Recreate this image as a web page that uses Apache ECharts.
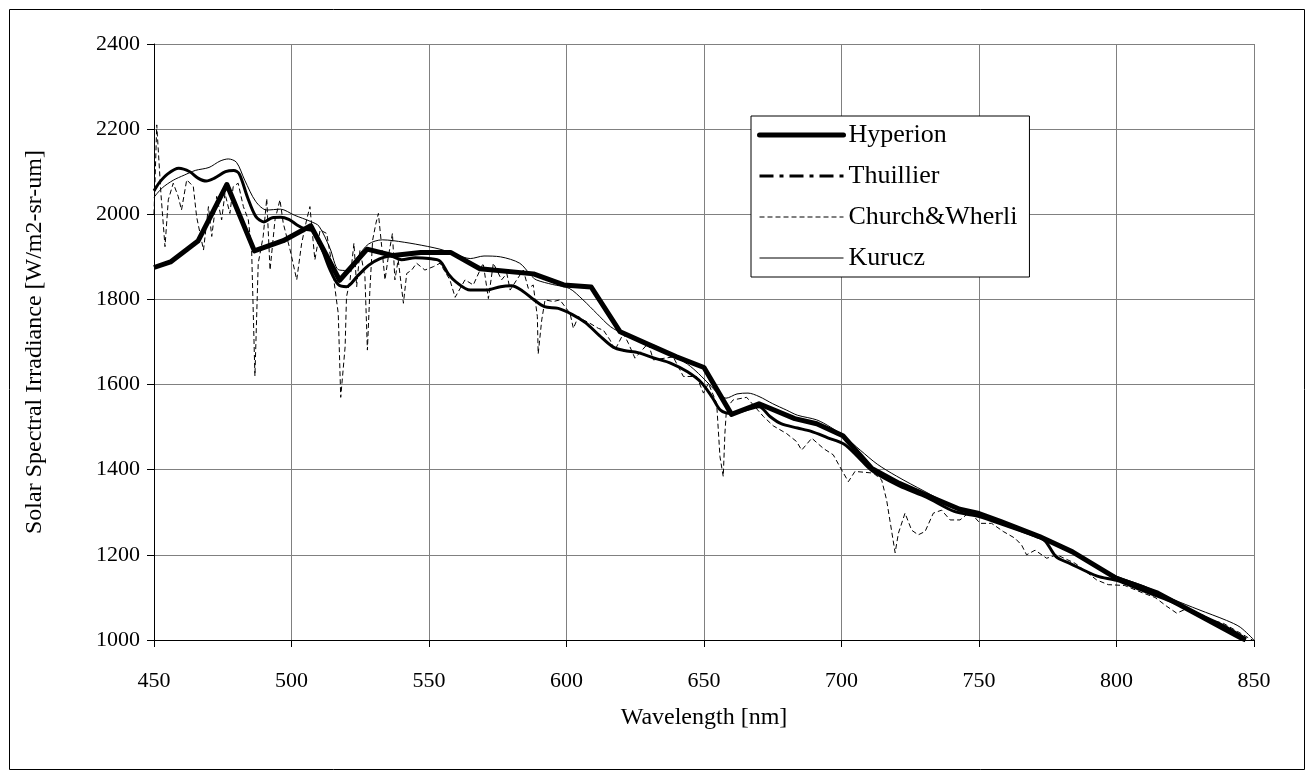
<!DOCTYPE html>
<html><head><meta charset="utf-8">
<script src="https://cdn.jsdelivr.net/npm/echarts@6/dist/echarts.min.js"></script>
<style>html,body{margin:0;padding:0;background:#fff}#c{width:1310px;height:775px}</style>
</head><body><div id="c"></div><script>
// ---- data ----
const xTicks = [450, 500, 550, 600, 650, 700, 750, 800, 850];
const yTicks = [1000, 1200, 1400, 1600, 1800, 2000, 2200, 2400];
const seriesNames = ['Hyperion', 'Thuillier', 'Church&Wherli', 'Kurucz'];

const hyperionWl = [450, 456, 466, 476.5, 486.5, 497, 507, 517.5, 527.5, 537, 547, 558, 568.5, 588, 599, 609, 619.5, 629.5, 640, 650, 660, 670, 683, 691, 700.5, 711, 721, 732, 743, 750, 758, 772, 784, 800, 815, 830, 845, 847];
const hyperionVal = [1875, 1888, 1937, 2070, 1914, 1938, 1973, 1845, 1918, 1903, 1910, 1910, 1872, 1860, 1834, 1829, 1724, 1695, 1665, 1640, 1530, 1555, 1520, 1508, 1480, 1403, 1368, 1337, 1307, 1297, 1278, 1243, 1207, 1145, 1110, 1058, 1006, 1000];

const thuillierWl = [450, 452, 455, 459, 463, 466, 469, 472, 476, 479, 481, 484, 487, 490, 493, 496, 499, 502, 505, 508, 511, 514, 517, 520, 524, 528, 532, 536, 540, 545, 550, 554, 557, 560, 565, 571, 576, 580, 584, 588, 592, 597, 602, 607, 612, 617, 621, 626, 632, 638, 644, 649, 653, 656, 660, 665, 670, 674, 678, 684, 689, 695, 701, 706, 711, 721, 731, 741, 750, 760, 770, 774, 778, 783, 793, 800, 810, 820, 830, 840, 847];
const thuillierVal = [2055, 2075, 2095, 2108, 2100, 2085, 2078, 2085, 2100, 2103, 2095, 2040, 1995, 1982, 1992, 1993, 1988, 1975, 1965, 1960, 1920, 1870, 1835, 1830, 1855, 1880, 1895, 1902, 1893, 1898, 1896, 1890, 1860, 1840, 1822, 1822, 1830, 1832, 1820, 1800, 1783, 1779, 1765, 1745, 1715, 1688, 1680, 1675, 1662, 1650, 1630, 1605, 1570, 1540, 1532, 1540, 1548, 1525, 1508, 1498, 1490, 1475, 1460, 1430, 1398, 1362, 1335, 1302, 1290, 1268, 1245, 1233, 1196, 1180, 1150, 1140, 1115, 1090, 1060, 1030, 1003];

const churchWl = [450, 451, 452.5, 454, 455.2, 457, 458.8, 460, 461.9, 464.3, 465.5, 468, 469.8, 471, 472.8, 474.6, 475.8, 477.6, 478.8, 480.6, 482.5, 484.3, 485.5, 486.7, 487.9, 489.7, 491, 492.2, 494, 495.8, 497, 499.5, 501.9, 503.7, 505.5, 506.7, 508.5, 510.4, 512.8, 514.6, 517, 517.9, 519.5, 520, 521.3, 522.7, 523.7, 524.9, 526.7, 527.6, 528.5, 529.5, 530.7, 531.6, 532.8, 534, 535.2, 536.7, 537.6, 538.8, 540.7, 541.9, 543.7, 545.5, 548.5, 551.6, 554, 557.6, 559.5, 563.1, 566.1, 569.7, 571.6, 573.4, 576.4, 578.3, 579.5, 581.9, 584.3, 586.1, 587.9, 589.4, 589.7, 591, 592.2, 595.2, 597.6, 601.3, 602.5, 604.3, 606.1, 608.5, 611.6, 613.4, 615.8, 617.6, 620.7, 622.5, 624.9, 629.7, 631.6, 638.8, 642.5, 647.3, 649.8, 651.6, 654.6, 655.8, 657, 657.6, 658.2, 660.6, 665.5, 671.6, 675.2, 680, 683.7, 685.5, 689.2, 693.4, 697, 700.1, 702.5, 704.9, 711.6, 714.6, 716.4, 719.5, 720.7, 723.1, 725.5, 727.9, 730.4, 733.4, 736.4, 739.5, 743.1, 746.7, 750.4, 754.6, 758.8, 763.1, 765.5, 767.3, 770.4, 774.6, 778.3, 785, 792.8, 797, 803, 809.8, 814, 818.3, 821.9, 826, 830, 834, 838.9, 844, 848, 850];
const churchVal = [2000, 2210, 2050, 1924, 2034, 2073, 2042, 2010, 2081, 2065, 1994, 1916, 2018, 1948, 2042, 1987, 2049, 2002, 2065, 2073, 2018, 1987, 1916, 1620, 1885, 1948, 2037, 1869, 1987, 2034, 1979, 1916, 1846, 1932, 1987, 2018, 1893, 1963, 1955, 1885, 1767, 1570, 1689, 1806, 1846, 1932, 1830, 1916, 1853, 1681, 1822, 1939, 1979, 2002, 1924, 1846, 1900, 1955, 1846, 1893, 1791, 1861, 1869, 1885, 1869, 1877, 1885, 1846, 1805, 1846, 1834, 1885, 1802, 1885, 1846, 1861, 1822, 1846, 1869, 1826, 1834, 1760, 1672, 1752, 1799, 1795, 1799, 1767, 1732, 1760, 1752, 1744, 1732, 1728, 1705, 1681, 1720, 1697, 1662, 1697, 1658, 1665, 1619, 1619, 1580, 1603, 1556, 1431, 1384, 1485, 1545, 1564, 1570, 1525, 1503, 1485, 1466, 1446, 1474, 1450, 1435, 1399, 1372, 1396, 1392, 1376, 1329, 1205, 1251, 1298, 1258, 1247, 1255, 1298, 1305, 1282, 1282, 1301, 1274, 1274, 1255, 1239, 1223, 1200, 1211, 1192, 1200, 1180, 1141, 1130, 1128, 1110, 1100, 1079, 1063, 1075, 1058, 1048, 1039, 1020, 1005, 998];

const kuruczWl = [450, 453, 457, 461, 465, 470, 474, 477, 480, 483, 487, 491, 496, 501, 507, 510, 514, 517, 520, 524, 528, 533, 537, 545, 554, 560, 565, 570, 576, 583, 587, 589, 595, 601, 606, 611, 616, 621, 625, 632, 638, 644, 648, 652, 655, 658, 662, 666, 670, 675, 680, 684, 691, 696, 701, 707, 713, 720, 730, 740, 750, 760, 770, 780, 790, 800, 810, 820, 830, 840, 845, 850];
const kuruczVal = [2040, 2062, 2080, 2092, 2103, 2110, 2125, 2130, 2122, 2080, 2030, 2010, 2012, 1998, 1983, 1972, 1920, 1870, 1868, 1900, 1930, 1940, 1938, 1930, 1918, 1905, 1896, 1902, 1900, 1885, 1857, 1846, 1835, 1826, 1799, 1767, 1736, 1718, 1705, 1692, 1670, 1648, 1626, 1600, 1580, 1568, 1578, 1580, 1572, 1555, 1540, 1528, 1517, 1500, 1478, 1445, 1413, 1385, 1350, 1317, 1297, 1273, 1250, 1217, 1182, 1150, 1127, 1097, 1071, 1046, 1030, 1000];

const zip = (a, b) => a.map((x, i) => [x, b[i]]);
const FONT = '"Liberation Serif", "Times New Roman", serif';
const noSym = {opacity: 0, color: 'transparent', borderWidth: 0};

const chart = echarts.init(document.getElementById('c'), null, {renderer: 'canvas'});
chart.setOption({
  animation: false,
  backgroundColor: '#fff',
  graphic: [{
    type: 'rect', left: 7, top: 7, z: -1, silent: true,
    shape: {width: 1295, height: 760},
    style: {fill: 'none', stroke: '#000', lineWidth: 1}
  }],
  grid: {left: 154, top: 44, right: 56, bottom: 135, containLabel: false},
  legend: {
    orient: 'vertical', left: 751, top: 116,
    backgroundColor: '#fff', borderColor: '#000', borderWidth: 1,
    padding: [6, 12, 6, 6],
    itemWidth: 84, itemHeight: 20, itemGap: 15,
    itemStyle: noSym,
    textStyle: {fontFamily: FONT, fontSize: 26, color: '#000'},
    data: [
      {name: 'Hyperion', itemStyle: noSym, lineStyle: {width: 5, cap: 'round'}},
      {name: 'Thuillier', itemStyle: noSym, lineStyle: {width: 3, type: [14, 6, 4, 6]}},
      {name: 'Church&Wherli', itemStyle: noSym, lineStyle: {width: 1, type: [5, 3]}},
      {name: 'Kurucz', itemStyle: noSym, lineStyle: {width: 1}}
    ]
  },
  xAxis: {
    type: 'value', min: xTicks[0], max: xTicks[xTicks.length - 1], interval: 50,
    name: 'Wavelength [nm]', nameLocation: 'middle', nameGap: 66,
    nameTextStyle: {fontFamily: FONT, fontSize: 24, color: '#000'},
    axisLine: {onZero: false, lineStyle: {color: '#000', width: 1}},
    axisTick: {show: true, inside: false, length: 7, lineStyle: {color: '#000'}},
    axisLabel: {fontFamily: FONT, fontSize: 22, color: '#000', margin: 30, formatter: v => String(v)},
    splitLine: {show: true, lineStyle: {color: '#808080', width: 1}}
  },
  yAxis: {
    type: 'value', min: yTicks[0], max: yTicks[yTicks.length - 1], interval: 200,
    name: 'Solar Spectral Irradiance [W/m2-sr-um]', nameLocation: 'middle', nameGap: 107,
    nameTextStyle: {fontFamily: FONT, fontSize: 24, color: '#000'},
    axisLine: {show: true, onZero: false, lineStyle: {color: '#000', width: 1}},
    axisTick: {show: true, inside: false, length: 7, lineStyle: {color: '#000'}},
    axisLabel: {fontFamily: FONT, fontSize: 22, color: '#000', margin: 14, formatter: v => String(v)},
    splitLine: {show: true, lineStyle: {color: '#808080', width: 1}}
  },
  series: [
    {name: 'Church&Wherli', type: 'line', symbol: 'none', data: zip(churchWl, churchVal),
     lineStyle: {color: '#000', width: 1, type: [5, 3]}, itemStyle: {color: '#000'}, z: 2},
    {name: 'Kurucz', type: 'line', symbol: 'none', smooth: 0.3, data: zip(kuruczWl, kuruczVal),
     lineStyle: {color: '#000', width: 1}, itemStyle: {color: '#000'}, z: 3},
    {name: 'Thuillier', type: 'line', symbol: 'none', smooth: 0.3, data: zip(thuillierWl, thuillierVal),
     lineStyle: {color: '#000', width: 3}, itemStyle: {color: '#000'}, z: 4},
    {name: 'Hyperion', type: 'line', symbol: 'none', data: zip(hyperionWl, hyperionVal),
     lineStyle: {color: '#000', width: 5, join: 'round'}, itemStyle: {color: '#000'}, z: 5}
  ]
});
</script></body></html>
